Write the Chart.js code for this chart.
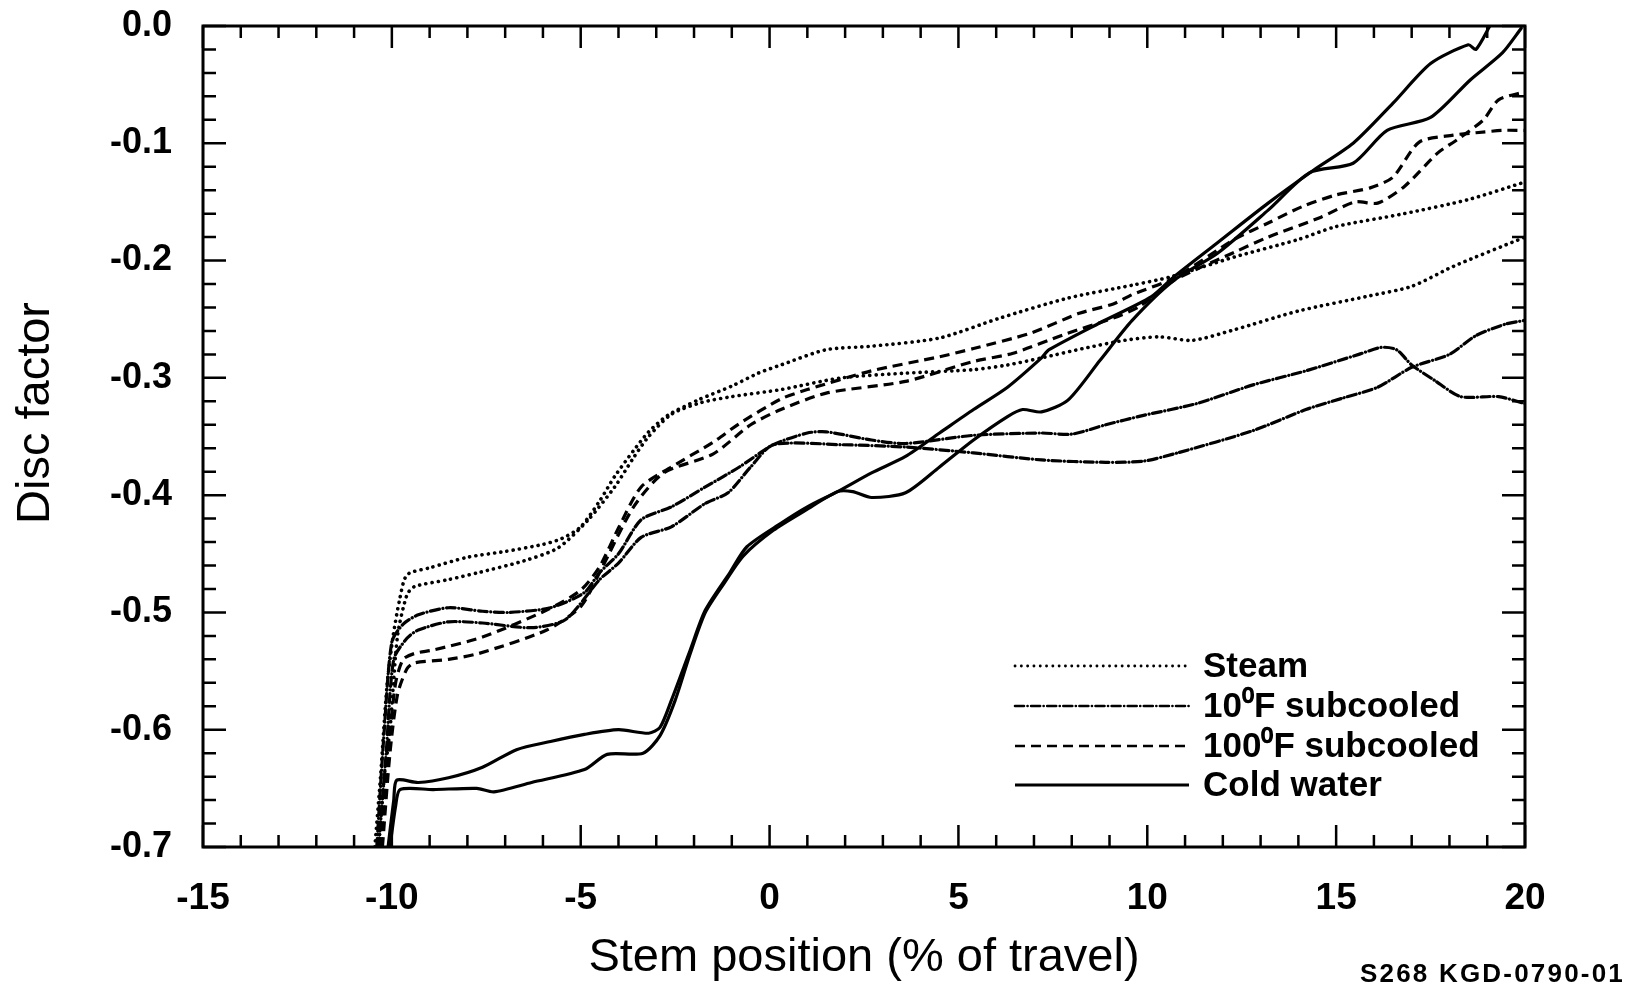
<!DOCTYPE html>
<html><head><meta charset="utf-8">
<script src="https://cdn.jsdelivr.net/npm/chart.js@4.4.1/dist/chart.umd.min.js"></script>
<style>
html,body{margin:0;padding:0;background:#fff;}
#wrap{position:relative;width:1638px;height:987px;}
#code{position:absolute;left:1360px;top:958px;font:bold 26px "Liberation Sans",Arial,sans-serif;color:#000;letter-spacing:2.2px;white-space:nowrap;}
</style></head><body>
<div id="wrap"><canvas id="c" width="1638" height="987"></canvas><div id="code">S268 KGD-0790-01</div></div>
<script>
// ---- data ----
const xTicks = [-15, -10, -5, 0, 5, 10, 15, 20];
const yTicks = [0, -0.1, -0.2, -0.3, -0.4, -0.5, -0.6, -0.7];
const yTickLabels = ['0.0', '-0.1', '-0.2', '-0.3', '-0.4', '-0.5', '-0.6', '-0.7'];

const seriesNames = ['Steam', '10\u2070F subcooled', '100\u2070F subcooled', 'Cold water'];

const steamAX = [-10.45,-10.3,-10.13,-9.97,-9.8,-9.6,-9.0,-8.0,-7.0,-6.0,-5.5,-5.0,-4.5,-4.1,-3.6,-3.2,-2.7,-1.9,-1.0,-0.3,0.3,1.5,2.7,4.5,6.1,7.9,9.6,10.6,12.3,14.0,15.0,16.8,18.5,20.0];
const steamAY = [-0.70,-0.64,-0.563,-0.521,-0.49,-0.468,-0.462,-0.453,-0.448,-0.442,-0.437,-0.427,-0.405,-0.384,-0.362,-0.346,-0.332,-0.319,-0.307,-0.296,-0.289,-0.276,-0.273,-0.266,-0.249,-0.232,-0.221,-0.214,-0.197,-0.182,-0.171,-0.160,-0.148,-0.133];

const steamBX = [-10.35,-10.2,-10.05,-9.85,-9.6,-9.4,-8.5,-7.7,-6.5,-5.6,-4.8,-4.1,-3.6,-3.2,-2.6,-1.8,-1.0,0.3,1.9,3.6,5.4,6.3,7.2,8.3,9.4,10.3,11.2,12.3,14.0,15.9,17.0,18.1,20.0];
const steamBY = [-0.70,-0.64,-0.60,-0.52,-0.485,-0.478,-0.472,-0.466,-0.456,-0.445,-0.421,-0.393,-0.368,-0.350,-0.331,-0.321,-0.316,-0.310,-0.300,-0.296,-0.293,-0.289,-0.283,-0.275,-0.268,-0.265,-0.268,-0.259,-0.243,-0.230,-0.222,-0.205,-0.180];

const sub10AX = [-10.4,-10.2,-10.0,-9.7,-9.3,-8.5,-7.6,-6.9,-5.8,-4.9,-4.5,-4.0,-3.4,-2.6,-1.7,-0.8,0.1,1.0,1.5,2.7,3.6,5.4,7.2,8.0,8.9,9.9,11.3,12.8,14.2,15.6,16.2,16.6,17.0,17.6,18.3,19.3,20.0];
const sub10AY = [-0.70,-0.60,-0.525,-0.510,-0.502,-0.496,-0.499,-0.500,-0.496,-0.483,-0.466,-0.450,-0.421,-0.410,-0.393,-0.376,-0.357,-0.347,-0.346,-0.353,-0.356,-0.349,-0.347,-0.348,-0.340,-0.332,-0.322,-0.306,-0.294,-0.280,-0.274,-0.276,-0.289,-0.302,-0.316,-0.316,-0.322];

const sub10BX = [-10.35,-10.15,-9.95,-9.6,-9.3,-8.5,-7.6,-6.3,-5.4,-4.5,-4.0,-3.4,-2.6,-1.7,-1.1,-0.5,0.1,1.9,3.6,5.4,7.2,8.9,9.9,10.8,12.8,14.2,15.2,16.1,17.0,18.0,18.7,19.5,20.0];
const sub10BY = [-0.70,-0.62,-0.54,-0.522,-0.515,-0.508,-0.509,-0.513,-0.506,-0.472,-0.458,-0.436,-0.427,-0.407,-0.398,-0.376,-0.357,-0.357,-0.359,-0.364,-0.370,-0.372,-0.371,-0.364,-0.345,-0.327,-0.317,-0.308,-0.291,-0.280,-0.264,-0.254,-0.251];

const sub100AX = [-10.3,-10.1,-9.9,-9.7,-9.4,-8.9,-7.6,-5.9,-5.0,-4.5,-4.0,-3.4,-2.6,-1.5,-0.8,0.3,1.0,2.7,4.5,5.4,6.9,8.2,9.1,9.6,10.7,12.3,13.2,14.1,15.0,15.9,16.5,17.2,18.1,18.7,19.4,20.0];
const sub100AY = [-0.70,-0.62,-0.56,-0.54,-0.535,-0.532,-0.521,-0.498,-0.481,-0.461,-0.428,-0.393,-0.376,-0.355,-0.339,-0.318,-0.310,-0.294,-0.282,-0.275,-0.262,-0.245,-0.237,-0.229,-0.215,-0.182,-0.168,-0.154,-0.144,-0.138,-0.129,-0.099,-0.093,-0.091,-0.089,-0.089];

const sub100BX = [-10.25,-10.05,-9.85,-9.6,-9.4,-8.5,-7.7,-5.9,-5.0,-4.5,-3.6,-2.8,-1.5,-0.5,0.3,1.5,3.6,5.4,6.45,7.8,9.1,9.8,10.7,12.3,13.2,14.6,15.5,16.1,16.8,17.7,18.2,18.9,19.3,20.0];
const sub100BY = [-0.70,-0.62,-0.57,-0.548,-0.543,-0.540,-0.535,-0.515,-0.495,-0.466,-0.410,-0.381,-0.365,-0.340,-0.327,-0.313,-0.303,-0.286,-0.279,-0.263,-0.249,-0.239,-0.217,-0.193,-0.180,-0.163,-0.150,-0.151,-0.137,-0.108,-0.097,-0.080,-0.063,-0.056];

const coldAX = [-10.1,-9.95,-9.87,-9.3,-8.5,-7.6,-6.7,-5.8,-4.9,-4.0,-3.2,-2.9,-2.6,-2.1,-1.7,-1.05,-0.6,0.3,1.0,1.8,2.7,3.6,4.5,5.4,6.3,7.2,7.4,8.75,10.1,10.7,11.85,13.2,14.4,15.45,16.5,17.5,18.5,18.7,19.07];
const coldAY = [-0.70,-0.66,-0.643,-0.645,-0.641,-0.632,-0.617,-0.610,-0.604,-0.600,-0.603,-0.598,-0.575,-0.532,-0.498,-0.466,-0.444,-0.424,-0.410,-0.397,-0.381,-0.367,-0.347,-0.327,-0.308,-0.283,-0.276,-0.253,-0.231,-0.214,-0.185,-0.151,-0.123,-0.100,-0.066,-0.032,-0.016,-0.020,0.0];

const coldBX = [-10.05,-9.9,-9.78,-8.9,-7.75,-7.3,-6.3,-4.9,-4.3,-3.35,-2.9,-2.5,-2.1,-1.7,-1.2,-0.7,0.1,1.0,1.8,2.2,2.7,3.6,4.5,5.4,6.3,6.7,7.2,7.9,8.75,9.6,10.7,11.85,13.2,14.3,15.45,16.35,17.5,18.55,19.4,19.9];
const coldBY = [-0.70,-0.665,-0.651,-0.651,-0.650,-0.653,-0.645,-0.634,-0.621,-0.620,-0.605,-0.575,-0.535,-0.500,-0.475,-0.452,-0.430,-0.412,-0.397,-0.397,-0.402,-0.398,-0.376,-0.353,-0.333,-0.327,-0.329,-0.319,-0.285,-0.251,-0.217,-0.194,-0.157,-0.125,-0.117,-0.089,-0.078,-0.046,-0.023,-0.002];

// ---- styles ----
const DASH = {
  steam: [0.1, 6.2],
  sub10: [9, 3.5, 0.1, 3.5],
  sub100: [10, 6],
  cold: []
};
const FONT = '"Liberation Sans", Arial, Helvetica, sans-serif';

const pts = (xs, ys) => xs.map((x, i) => ({x: x, y: ys[i]}));
function ds(label, xs, ys, dash, cap, w) {
  return {
    label: label, data: pts(xs, ys), borderColor: '#000', backgroundColor: '#000',
    borderWidth: w, borderDash: dash, borderCapStyle: cap, borderJoinStyle: 'round',
    pointRadius: 0, tension: 0.25, fill: false
  };
}

const datasets = [
  ds(seriesNames[0], steamAX, steamAY, DASH.steam, 'round', 3.6),
  ds(seriesNames[0], steamBX, steamBY, DASH.steam, 'round', 3.6),
  ds(seriesNames[1], sub10AX, sub10AY, DASH.sub10, 'round', 3.2),
  ds(seriesNames[1], sub10BX, sub10BY, DASH.sub10, 'round', 3.2),
  ds(seriesNames[2], sub100AX, sub100AY, DASH.sub100, 'butt', 3.2),
  ds(seriesNames[2], sub100BX, sub100BY, DASH.sub100, 'butt', 3.2),
  ds(seriesNames[3], coldAX, coldAY, DASH.cold, 'round', 3.2),
  ds(seriesNames[3], coldBX, coldBY, DASH.cold, 'round', 3.2)
];

const framePlugin = {
  id: 'frameTicks',
  afterDatasetsDraw(chart) {
    const {ctx, chartArea: a, scales} = chart;
    const xs = scales.x, ys = scales.y;
    ctx.save();
    ctx.strokeStyle = '#000';
    ctx.lineCap = 'butt';
    ctx.lineWidth = 2.5;
    ctx.beginPath();
    for (let i = 0; i <= 35; i++) {
      const v = -15 + i;
      const px = xs.getPixelForValue(v);
      const len = (i % 5 === 0) ? 22 : 12;
      ctx.moveTo(px, a.bottom); ctx.lineTo(px, a.bottom - len);
      ctx.moveTo(px, a.top); ctx.lineTo(px, a.top + len);
    }
    for (let j = 0; j <= 35; j++) {
      const v = -0.7 + j * 0.02;
      const py = ys.getPixelForValue(v);
      const len = (j % 5 === 0) ? 23 : 13;
      ctx.moveTo(a.left, py); ctx.lineTo(a.left + len, py);
      ctx.moveTo(a.right, py); ctx.lineTo(a.right - len, py);
    }
    ctx.stroke();
    ctx.lineWidth = 3;
    ctx.strokeRect(a.left, a.top, a.right - a.left, a.bottom - a.top);
    ctx.restore();
  },
  afterDraw(chart) {
    const ctx = chart.ctx;
    ctx.save();
    // legend
    const rows = [666, 706, 746, 785];
    const styles = [[DASH.steam, 'round', 2.8], [DASH.sub10, 'round', 2.6], [DASH.sub100, 'butt', 2.6], [DASH.cold, 'butt', 3]];
    for (let k = 0; k < 4; k++) {
      ctx.beginPath();
      ctx.setLineDash(styles[k][0]);
      ctx.lineCap = styles[k][1];
      ctx.lineWidth = styles[k][2];
      ctx.strokeStyle = '#000';
      ctx.moveTo(1015, rows[k]); ctx.lineTo(1189, rows[k]);
      ctx.stroke();
      ctx.setLineDash([]);
      ctx.fillStyle = '#000';
      ctx.font = 'bold 35px ' + FONT;
      ctx.textAlign = 'left';
      ctx.textBaseline = 'middle';
      ctx.fillText(seriesNames[k], 1203, rows[k] + 1);
    }
    // y axis title
    ctx.translate(36, 413);
    ctx.rotate(-Math.PI / 2);
    ctx.font = '47px ' + FONT;
    ctx.textAlign = 'center';
    ctx.textBaseline = 'middle';
    ctx.fillText('Disc factor', 0, 0);
    ctx.restore();
  }
};

new Chart(document.getElementById('c'), {
  type: 'line',
  data: {datasets: datasets},
  options: {
    responsive: false,
    animation: false,
    devicePixelRatio: 1,
    layout: {padding: {left: 0, top: 26, right: 113, bottom: 0}},
    plugins: {legend: {display: false}, tooltip: {enabled: false}},
    scales: {
      x: {
        type: 'linear', min: -15, max: 20,
        afterBuildTicks: (s) => { s.ticks = xTicks.map(v => ({value: v})); },
        afterFit: (s) => { s.height = 140; s.paddingLeft = 0; s.paddingRight = 0; },
        grid: {display: false, drawTicks: false},
        border: {display: false},
        ticks: {color: '#000', padding: 30, font: {family: FONT, size: 37, weight: 'bold'}, maxRotation: 0,
                callback: (v) => String(v)},
        title: {display: true, text: 'Stem position (% of travel)', color: '#000',
                font: {family: FONT, size: 47}, padding: {top: 0, bottom: 1}}
      },
      y: {
        type: 'linear', min: -0.7, max: 0,
        afterBuildTicks: (s) => { s.ticks = yTicks.map(v => ({value: v})); },
        afterFit: (s) => { s.width = 203; s.paddingTop = 0; s.paddingBottom = 0; },
        grid: {display: false, drawTicks: false},
        border: {display: false},
        ticks: {color: '#000', padding: 31, font: {family: FONT, size: 36, weight: 'bold'},
                callback: (v) => { const i = yTicks.findIndex(t => Math.abs(t - v) < 1e-9); return i >= 0 ? yTickLabels[i] : ''; }}
      }
    }
  },
  plugins: [framePlugin]
});
</script></body></html>
